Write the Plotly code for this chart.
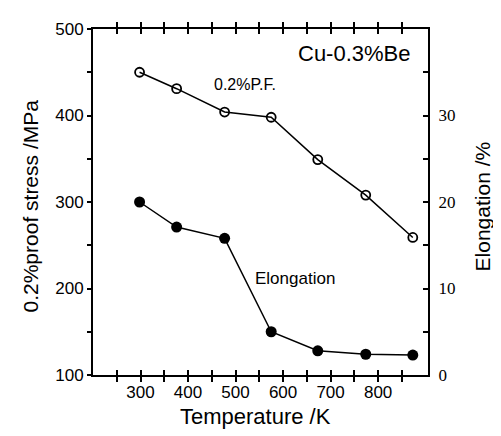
import plotly.graph_objects as go

# Data
temperature_K = [298, 376, 477, 575, 673, 774, 873]
proof_stress_MPa = [450, 431, 404, 398, 349, 308, 259]
elongation_pct = [20.0, 17.1, 15.8, 5.0, 2.8, 2.4, 2.3]

x_tickvals = [250, 300, 350, 400, 450, 500, 550, 600, 650, 700, 750, 800, 850]
x_ticktext = ["", "300", "", "400", "", "500", "", "600", "", "700", "", "800", ""]
y_tickvals = [100, 150, 200, 250, 300, 350, 400, 450, 500]
y_ticktext = ["100", "", "200", "", "300", "", "400", "", "500"]
y2_tickvals = [0, 5, 10, 15, 20, 25, 30, 35]
y2_ticktext = ["0", "", "10", "", "20", "", "30", ""]

FONT = "Liberation Sans, Arial, sans-serif"

fig = go.Figure()
fig.add_trace(go.Scatter(
    x=temperature_K, y=proof_stress_MPa, mode="lines+markers",
    line=dict(color="black", width=1.5),
    marker=dict(symbol="circle-open", size=9, color="black", line=dict(width=1.8)),
    showlegend=False,
))
fig.add_trace(go.Scatter(
    x=temperature_K, y=elongation_pct, mode="lines+markers", yaxis="y2",
    line=dict(color="black", width=1.5),
    marker=dict(symbol="circle", size=11, color="black"),
    showlegend=False,
))

# page body has an 8px margin, so the figure is 8px smaller and shifted
fig.update_layout(
    width=493, height=428,
    margin=dict(l=85, r=73, t=14, b=61),
    paper_bgcolor="white", plot_bgcolor="white",
    font=dict(family=FONT, color="black"),
    xaxis=dict(
        range=[200, 905], tickvals=x_tickvals, ticktext=x_ticktext,
        ticks="inside", ticklen=5, tickwidth=1.5, tickcolor="black",
        showline=True, linecolor="black", linewidth=2, mirror="allticks",
        showgrid=False, zeroline=False,
        tickfont=dict(size=17, family=FONT, color="black"),
        ticklabelstandoff=1,
    ),
    yaxis=dict(
        range=[100, 500], tickvals=y_tickvals, ticktext=y_ticktext,
        ticks="outside", ticklen=4, tickwidth=1.5, tickcolor="black",
        showline=True, linecolor="black", linewidth=2,
        showgrid=False, zeroline=False,
        tickfont=dict(size=17, family=FONT, color="black"),
    ),
    yaxis2=dict(
        range=[0, 40], tickvals=y2_tickvals, ticktext=y2_ticktext,
        overlaying="y", side="right",
        ticks="inside", ticklen=5, tickwidth=1.5, tickcolor="black",
        showline=True, linecolor="black", linewidth=2,
        showgrid=False, zeroline=False,
        tickfont=dict(size=17, family="Liberation Serif, Times New Roman, serif", color="black"),
        ticklabelstandoff=5,
    ),
)

annos = [
    dict(text="Cu-0.3%Be", x=0.955, y=0.929, xanchor="right", yanchor="middle", font=dict(size=22)),
    dict(text="0.2%P.F.", x=0.355, y=0.839, xanchor="left", yanchor="middle", font=dict(size=16)),
    dict(text="Elongation", x=0.478, y=0.28, xanchor="left", yanchor="middle", font=dict(size=17)),
    dict(text="0.2%proof stress /MPa", x=-0.188, y=0.487, xanchor="center", yanchor="middle",
         textangle=-90, font=dict(size=21)),
    dict(text="Elongation /%", x=1.164, y=0.487, xanchor="center", yanchor="middle",
         textangle=-90, font=dict(size=21)),
    dict(text="Temperature /K", x=0.484, y=-0.119, xanchor="center", yanchor="middle",
         font=dict(size=22)),
]
for a in annos:
    a.update(xref="paper", yref="paper", showarrow=False)
    a["font"].update(family=FONT, color="black")
    fig.add_annotation(**a)

fig.write_html("out.html")
